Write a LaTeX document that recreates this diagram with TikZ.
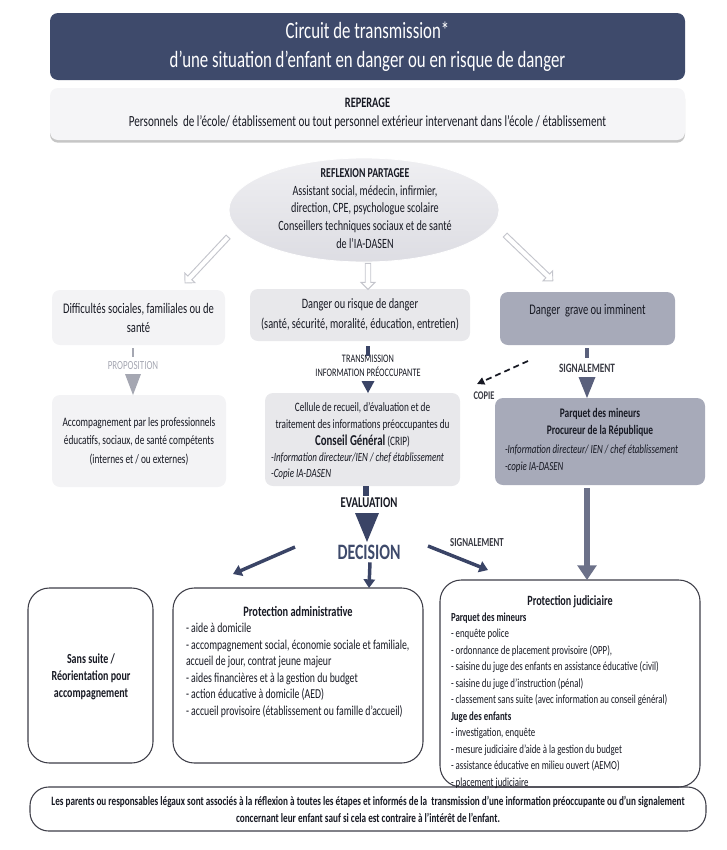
\documentclass[tikz,border=0pt]{standalone}
\usepackage{fontspec}
\setmainfont{Carlito}[FakeStretch=0.72]
\usetikzlibrary{shapes.geometric,shapes.arrows,arrows.meta,calc,shadows}
\definecolor{titlefill}{HTML}{3E4A6B}
\definecolor{navy}{HTML}{3A4466}
\definecolor{ink}{HTML}{171923}
\definecolor{grayblue}{HTML}{A7AAB9}
\definecolor{lightA}{HTML}{F3F3F5}
\definecolor{lightB}{HTML}{E8E8EB}
\definecolor{repfill}{HTML}{F5F5F7}
\definecolor{ellTop}{HTML}{EFEFF2}
\definecolor{ellBot}{HTML}{DDDDE3}
\definecolor{propgray}{HTML}{A5A7B2}
\definecolor{sigbar}{HTML}{5A607C}
\definecolor{longarr}{HTML}{6C7189}
\definecolor{outl}{HTML}{3E3E48}
\definecolor{hollowgray}{HTML}{C4C5CC}
\newcommand\pxl[1]{#1*0.75pt}
\newcommand\fsz[2]{\fontsize{#1pt}{#2pt}\selectfont}
\newcommand\tri[4]{\fill[#1] (#2) -- ++(-#3,-#4) -- ++(2*#3,0) -- cycle;}
\begin{document}
\begin{tikzpicture}[x=0.75pt,y=-0.75pt,
  every node/.style={inner sep=0pt, outer sep=0pt, text=ink},
  box/.style={rounded corners=6pt, minimum width=\pxl{#1}},
  bigbox/.style={rounded corners=16pt, draw=outl, line width=0.8pt, fill=white},
  hollow/.style={single arrow, draw=hollowgray, fill=white, line width=0.7pt,
    minimum height=\pxl{#1}, inner sep=1.7pt, single arrow head extend=3.2pt},
  navyarr/.style={draw=navy, line width=2.6pt, -{Triangle[length=6.5pt,width=8.5pt]}},
]
\useasboundingbox (0,0) rectangle (727,850);

% ---------- header ----------
\node[box=635, minimum height=\pxl{67}, fill=titlefill, text=white, align=center,
  font=\fsz{17.5}{21.75}] (title) at (367.5,46.5)
  {Circuit de transmission*\\d’une situation d’enfant en danger ou en risque de danger};
\node[box=635, minimum height=\pxl{52}, fill=repfill, align=center,
  drop shadow={shadow xshift=0pt, shadow yshift=-2pt, opacity=0.45, fill=black!50},
  font=\fsz{11.6}{14.25}] (rep) at (367.5,114)
  {{\fsz{10.8}{14.25}\bfseries REPERAGE}\\Personnels\ \ de l’école/ établissement ou tout personnel extérieur intervenant dans l’école / établissement};

% ---------- ellipse ----------
\node[ellipse, top color=ellTop, bottom color=ellBot, draw=white, line width=0.6pt,
  minimum width=\pxl{270}, minimum height=\pxl{104}] (ell) at (364,210) {};
\node[align=center, font=\fsz{10.6}{13.3}] (ellt) at (365,208.5)
  {{\fsz{10.2}{13.3}\bfseries REFLEXION PARTAGEE}\\Assistant social, médecin, infirmier,\\direction, CPE, psychologue scolaire\\Conseillers techniques sociaux et de santé\\de l’IA-DASEN};

% ---------- second row ----------
\node[box=173, minimum height=\pxl{55}, fill=lightA, align=center, font=\fsz{11}{14.25}]
  (diff) at (138.5,317.5) {Difficultés sociales, familiales ou de\\santé};
\node[box=220, minimum height=\pxl{52}, fill=lightB, align=center, font=\fsz{10.75}{15}]
  (danger) at (360,315) {Danger ou risque de danger\\(santé, sécurité, moralité, éducation, entretien)};
\node[box=175, minimum height=\pxl{53}, fill=grayblue] (grave) at (587.5,318.5) {};
\node[font=\fsz{11}{14}] (gravet) at (587.5,311) {Danger\ \ grave ou imminent};

% hollow arrows
\coordinate (hl1) at (229,236); \coordinate (hl2) at (186,282);
\coordinate (hm1) at (368,262); \coordinate (hm2) at (368,288);
\coordinate (hr1) at (504,234); \coordinate (hr2) at (552,280);
\path (hl1) -- (hl2) node[midway, sloped, allow upside down, hollow=63] (ahl) {};
\path (hm1) -- (hm2) node[midway, sloped, allow upside down, hollow=26] (ahm) {};
\path (hr1) -- (hr2) node[midway, sloped, allow upside down, hollow=66] (ahr) {};

% ---------- third row ----------
\node[box=174, minimum height=\pxl{92}, fill=lightA, align=center, font=\fsz{9.7}{13.9}]
  (accomp) at (139,441) {Accompagnement par les professionnels\\éducatifs, sociaux, de santé compétents\\(internes et / ou externes)};
\node[box=195, minimum height=\pxl{93}, fill=lightB] (crip) at (362.5,439.5) {};
\node[align=center, font=\fsz{9.6}{12.7}] (cript) at (362.5,425)
  {Cellule de recueil, d’évaluation et de\\traitement des informations préoccupantes du\\{\fsz{11.3}{12.7}\bfseries Conseil Général} (CRIP)};
\node[align=left, anchor=west, font=\fsz{9.4}{12.2}\itshape] (cripl) at (271,466)
  {-Information directeur/IEN / chef établissement\\-Copie IA-DASEN};
\node[box=210, minimum height=\pxl{87}, fill=grayblue] (parq) at (600,441.5) {};
\node[align=center, font=\fsz{9.8}{12.75}\bfseries] (parqt) at (600,422.5)
  {Parquet des mineurs\\Procureur de la République};
\node[align=left, anchor=west, font=\fsz{9.3}{12.75}\itshape] (parql) at (505,458.5)
  {-Information directeur/ IEN / chef établissement\\-copie IA-DASEN};

% proposition connector
\node[text=propgray, font=\fsz{9.3}{9}] (prop) at (133,366) {PROPOSITION};
\draw[propgray, line width=2.2pt] ($(diff.south -| prop)+(0,3)$) -- ++(0,9);
\tri{propgray}{accomp.north -| prop}{8}{21}

% transmission connector
\node[align=center, font=\fsz{8.6}{10.5}] (trans) at (368,366) {TRANSMISSION\\INFORMATION PRÉOCCUPANTE};
\draw[navy, line width=3pt] ($(danger.south -| trans)+(0,5)$) -- ++(0,10);
\tri{navy}{crip.north -| trans}{6.5}{12}

% signalement connector (right)
\node[font=\fsz{9.6}{10}\bfseries, text=ink!85] (sig) at (587,368) {SIGNALEMENT};
\draw[sigbar, line width=3.6pt] ($(grave.south -| sig)+(0,3)$) -- ++(0,10);
\tri{sigbar}{parq.north -| sig}{8.5}{21}
\coordinate (cp1) at (528,361); \coordinate (cp2) at (477,384);
\draw[ink, line width=1.3pt, dash pattern=on 4.5pt off 3pt, -{Triangle[length=5.5pt,width=5.5pt]}] (cp1) -- (cp2);
\node[font=\fsz{8.8}{10}\bfseries, text=ink!85] (copie) at (484,396) {COPIE};

% evaluation / decision
\node[font=\fsz{11.2}{12}\bfseries, text=ink] (eval) at (369,503) {EVALUATION};
\draw[navy, line width=4.5pt] ($(crip.south -| eval)+(-3,0)$) -- ++(0,10);
\node[font=\fsz{16.5}{17}\bfseries, text=titlefill] (dec) at (369,552) {DECISION};
\coordinate (evtip) at (367,542);
\tri{navy}{evtip}{12}{29}
\node[font=\fsz{9.2}{9}\bfseries, text=ink!85] (sig2) at (477,543) {SIGNALEMENT};

% ---------- bottom boxes ----------
\node[bigbox, minimum width=\pxl{125}, minimum height=\pxl{175}] (sans) at (90.5,675.5) {};
\node[align=center, font=\fsz{10.4}{12.75}\bfseries] (sanst) at (91,677) {Sans suite /\\Réorientation pour\\accompagnement};
\node[bigbox, minimum width=\pxl{250}, minimum height=\pxl{175}] (admin) at (298,675.5) {};
\node[font=\fsz{10.8}{12}\bfseries] (admint) at (298,611) {Protection administrative};
\node[align=left, anchor=west, font=\fsz{10.2}{12.4}] (adminl) at (186,670.5)
  {- aide à domicile\\- accompagnement social, économie sociale et familiale,\\accueil de jour, contrat jeune majeur\\- aides financières et à la gestion du budget\\- action éducative à domicile (AED)\\- accueil provisoire (établissement ou famille d’accueil)};

\node[bigbox, rounded corners=14pt, minimum width=\pxl{676}, minimum height=\pxl{44}] (note) at (368,809) {};
\node[bigbox, minimum width=\pxl{260}, minimum height=\pxl{207}, fill=none] (judic) at (570,683.5) {};
\node[font=\fsz{10.6}{12}\bfseries] (judict) at (570,602) {Protection judiciaire};
\node[align=left, anchor=west, font=\fsz{9.2}{12.4}] (judicl) at (451,700.5)
  {{\bfseries Parquet des mineurs}\\- enquête police\\- ordonnance de placement provisoire (OPP),\\- saisine du juge des enfants en assistance éducative (civil)\\- saisine du juge d’instruction (pénal)\\- classement sans suite (avec information au conseil général)\\{\bfseries Juge des enfants}\\- investigation, enquête\\- mesure judiciaire d’aide à la gestion du budget\\- assistance éducative en milieu ouvert (AEMO)\\- placement judiciaire};
\node[align=center, font=\fsz{9.55}{12.75}\bfseries] (notet) at (368,809.5)
  {Les parents ou responsables légaux sont associés à la réflexion à toutes les étapes et informés de la\ \ transmission d’une information préoccupante ou d’un signalement\\concernant leur enfant sauf si cela est contraire à l’intérêt de l’enfant.};

% decision arrows
\draw[navyarr] ($(dec.south)+(1,3)$) -- (admin.north -| dec);
\coordinate (dl1) at (295,547); \coordinate (dl2) at (233,574);
\draw[navyarr] (dl1) -- (dl2);
\coordinate (dr1) at (428,546); \coordinate (dr2) at (488,570);
\draw[navyarr] (dr1) -- (dr2);
% long grey arrow
\draw[longarr, line width=4pt, -{Triangle[length=11pt,width=14pt]}] ($(parq.south -| sig)+(0,3)$) -- (judic.north -| sig);
\end{tikzpicture}
\end{document}
